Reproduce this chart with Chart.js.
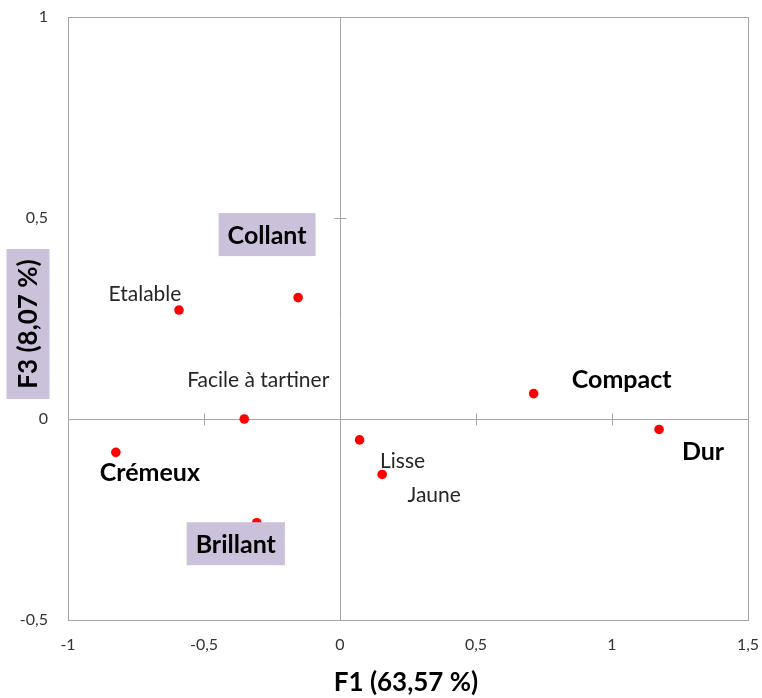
<!DOCTYPE html>
<html>
<head>
<meta charset="utf-8">
<script src="https://cdn.jsdelivr.net/npm/chart.js@4/dist/chart.umd.min.js"></script>
<style>
  html, body { margin: 0; padding: 0; background: #fff; }
  #wrap { width: 762px; height: 698px; }
</style>
</head>
<body>
<div id="wrap"><canvas id="chart" width="762" height="698"></canvas></div>
<script>
// Attributes on the F1 / F3 map
const attributes = ['Etalable', 'Collant', 'Facile à tartiner', 'Crémeux', 'Brillant', 'Lisse', 'Jaune', 'Compact', 'Dur'];
const f1 = [-0.592, -0.154, -0.352, -0.824, -0.306, 0.072, 0.155, 0.712, 1.173];
const f3 = [0.271, 0.302, 0.000, -0.083, -0.258, -0.052, -0.138, 0.063, -0.026];

const xTicks = [-1, -0.5, 0, 0.5, 1, 1.5];
const yTicks = [-0.5, 0, 0.5, 1];

const xTitle = 'F1 (63,57 %)';
const yTitle = 'F3 (8,07 %)';

// label placement, relative to the point (px)
const labelStyle = {
  'Etalable':          { dx: -34, dy: -17, bold: false },
  'Collant':           { dx: -31, dy: -63, bold: true, box: true },
  'Facile à tartiner': { dx: 14,  dy: -40, bold: false },
  'Crémeux':           { dx: 34,  dy: 20,  bold: true },
  'Brillant':          { dx: -21, dy: 21,  bold: true, box: true },
  'Lisse':             { dx: 43,  dy: 20,  bold: false },
  'Jaune':             { dx: 52,  dy: 20,  bold: false },
  'Compact':           { dx: 88,  dy: -15, bold: true },
  'Dur':               { dx: 44,  dy: 21,  bold: true },
};

const FONT = 'Lato, "Open Sans", sans-serif';
const BOX = '#ccc1da';
const LINE = '#a6a6a6';

const fmt = v => String(v).replace('.', ',');

const mapPlugin = {
  id: 'mapPlugin',
  beforeDatasetsDraw(chart) {
    const { ctx, chartArea: a, scales: { x, y } } = chart;
    ctx.save();
    ctx.strokeStyle = LINE;
    ctx.lineWidth = 1;
    ctx.strokeRect(Math.round(a.left) + 0.5, Math.round(a.top) + 0.5,
      Math.round(a.right - a.left), Math.round(a.bottom - a.top));
    const x0 = Math.round(x.getPixelForValue(0)) + 0.5;
    const y0 = Math.round(y.getPixelForValue(0)) + 0.5;
    ctx.beginPath();
    ctx.moveTo(a.left, y0); ctx.lineTo(a.right, y0);
    ctx.moveTo(x0, a.top); ctx.lineTo(x0, a.bottom);
    xTicks.forEach(v => {
      if (v === 0 || v === xTicks[0] || v === xTicks[xTicks.length - 1]) return;
      const px = Math.round(x.getPixelForValue(v)) + 0.5;
      ctx.moveTo(px, y0 - 6); ctx.lineTo(px, y0 + 6);
    });
    yTicks.forEach(v => {
      if (v === 0 || v === yTicks[0] || v === yTicks[yTicks.length - 1]) return;
      const py = Math.round(y.getPixelForValue(v)) + 0.5;
      ctx.moveTo(x0 - 6, py); ctx.lineTo(x0 + 6, py);
    });
    ctx.stroke();
    ctx.restore();
  },
  afterDatasetsDraw(chart) {
    const { ctx, scales: { x, y } } = chart;
    ctx.save();
    ctx.textAlign = 'center';
    ctx.textBaseline = 'middle';
    attributes.forEach((name, i) => {
      const s = labelStyle[name];
      const cx = x.getPixelForValue(f1[i]) + s.dx;
      const cy = y.getPixelForValue(f3[i]) + s.dy;
      ctx.font = (s.bold ? 'bold 25px ' : '21px ') + FONT;
      if (s.box) {
        const w = ctx.measureText(name).width + 18;
        ctx.fillStyle = BOX;
        ctx.fillRect(cx - w / 2, cy - 21.5, w, 43);
      }
      ctx.fillStyle = s.bold ? '#000' : '#262626';
      ctx.fillText(name, cx, cy + 1);
    });

    // axis titles
    ctx.font = 'bold 26px ' + FONT;
    ctx.fillStyle = '#000';
    ctx.fillText(xTitle, 406, 683);

    ctx.translate(28, 324);
    ctx.rotate(-Math.PI / 2);
    ctx.fillStyle = BOX;
    ctx.fillRect(-75, -21.5, 150, 43);
    ctx.fillStyle = '#000';
    ctx.fillText(yTitle, 0, 1);
    ctx.restore();
  }
};

new Chart(document.getElementById('chart'), {
  type: 'scatter',
  data: {
    datasets: [{
      data: attributes.map((n, i) => ({ x: f1[i], y: f3[i] })),
      backgroundColor: '#ff0000',
      borderWidth: 0,
      pointRadius: 4.8,
    }],
  },
  options: {
    responsive: false,
    animation: false,
    layout: { padding: { left: 0, right: 14, top: 17, bottom: 0 } },
    plugins: { legend: { display: false }, tooltip: { enabled: false } },
    scales: {
      x: {
        min: -1, max: 1.5,
        afterFit: s => { s.height = 78; s.paddingLeft = 0; s.paddingRight = 0; },
        afterBuildTicks: s => { s.ticks = xTicks.map(v => ({ value: v })); },
        grid: { display: false },
        border: { display: false },
        ticks: { padding: 7, color: '#333', font: { family: FONT, size: 16 }, callback: v => fmt(v), maxRotation: 0 },
      },
      y: {
        min: -0.5, max: 1,
        afterFit: s => { s.width = 68; s.paddingTop = 0; s.paddingBottom = 0; },
        afterBuildTicks: s => { s.ticks = yTicks.map(v => ({ value: v })); },
        grid: { display: false },
        border: { display: false },
        ticks: { padding: 12, color: '#333', font: { family: FONT, size: 16 }, callback: v => fmt(v) },
      },
    },
  },
  plugins: [mapPlugin],
});
</script>
</body>
</html>
